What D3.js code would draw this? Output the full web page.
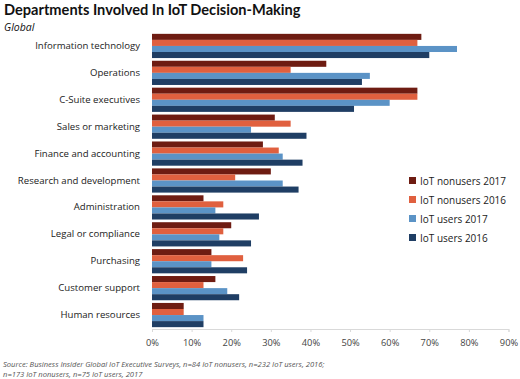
<!DOCTYPE html>
<html>
<head>
<meta charset="utf-8">
<script src="https://cdn.jsdelivr.net/npm/d3@7"></script>
<style>
  html, body { margin: 0; padding: 0; background: #fff; }
  svg { display: block; }
</style>
</head>
<body>
<svg id="chart" width="520" height="379"></svg>
<script>
const categories = ["Information technology","Operations","C-Suite executives","Sales or marketing","Finance and accounting","Research and development","Administration","Legal or compliance","Purchasing","Customer support","Human resources"];
const seriesNames = ["IoT nonusers 2017","IoT nonusers 2016","IoT users 2017","IoT users 2016"];
const nonusers2017 = [68, 44, 67, 31, 28, 30, 13, 20, 15, 16, 8];
const nonusers2016 = [67, 35, 67, 35, 32, 21, 18, 18, 23, 13, 8];
const users2017    = [77, 55, 60, 25, 33, 33, 16, 17, 15, 19, 13];
const users2016    = [70, 53, 51, 39, 38, 37, 27, 25, 24, 22, 13];
const tickValues = [0,10,20,30,40,50,60,70,80,90];
const colors = ["#6e1c12","#e0603f","#5b93c6","#1f3e64"];
const seriesValues = [nonusers2017, nonusers2016, users2017, users2016];

const svg = d3.select("#chart");
const x = d3.scaleLinear().domain([0, 90]).range([152, 508.5]);
const y = d3.scaleBand().domain(categories).range([32.5, 328.5]).paddingInner(0.1).paddingOuter(0.05);
const ySub = d3.scaleBand().domain(seriesNames).range([0, y.bandwidth()]);

// title
svg.append("text").attr("x", 4).attr("y", 15)
  .attr("font-family", "Lato, sans-serif").attr("font-weight", "bold")
  .attr("font-size", 14.6).attr("fill", "#111")
  .text("Departments Involved In IoT Decision-Making");
svg.append("text").attr("x", 4).attr("y", 31)
  .attr("font-family", "'Open Sans', sans-serif").attr("font-style", "italic")
  .attr("font-size", 10.5).attr("fill", "#111").text("Global");

// bars
const g = svg.append("g");
categories.forEach((c, i) => {
  seriesNames.forEach((s, j) => {
    g.append("rect")
      .attr("x", x(0))
      .attr("y", y(c) + ySub(s))
      .attr("width", x(seriesValues[j][i]) - x(0))
      .attr("height", ySub.bandwidth())
      .attr("fill", colors[j]);
  });
});

// category labels
const yAxis = svg.append("g").attr("transform", `translate(${x(0)},0)`)
  .call(d3.axisLeft(y).tickSize(0).tickPadding(12));
yAxis.select(".domain").remove();
yAxis.selectAll("text").attr("font-family", "'Open Sans', sans-serif").attr("font-size", 9.6).attr("fill", "#222");

// x axis
const xAxis = svg.append("g").attr("transform", "translate(0,329)")
  .call(d3.axisBottom(x).tickValues(tickValues).tickSize(3).tickFormat(d => d + "%"));
xAxis.select(".domain").attr("stroke", "#d9d9d9");
xAxis.selectAll(".tick line").attr("stroke", "#d9d9d9");
xAxis.selectAll("text").attr("font-family", "'Open Sans', sans-serif").attr("font-size", 9.3).attr("fill", "#444").attr("dy", "1.2em");

// legend
const leg = svg.append("g");
seriesNames.forEach((s, j) => {
  const ly = 181 + j * 19;
  leg.append("rect").attr("x", 409).attr("y", ly - 4).attr("width", 7).attr("height", 7).attr("fill", colors[j]);
  leg.append("text").attr("x", 420).attr("y", ly).attr("dy", "0.35em")
    .attr("font-family", "'Open Sans', sans-serif").attr("font-size", 10).attr("fill", "#222").text(s);
});

// source
const src = svg.append("text").attr("font-family", "'Open Sans', sans-serif").attr("font-style", "italic")
  .attr("font-size", 7.6).attr("fill", "#555");
src.append("tspan").attr("x", 3).attr("y", 367).text("Source: Business Insider Global IoT Executive Surveys, n=84 IoT nonusers, n=232 IoT users, 2016;");
src.append("tspan").attr("x", 3).attr("y", 377).text("n=173 IoT nonusers, n=75 IoT users, 2017");
</script>
</body>
</html>
